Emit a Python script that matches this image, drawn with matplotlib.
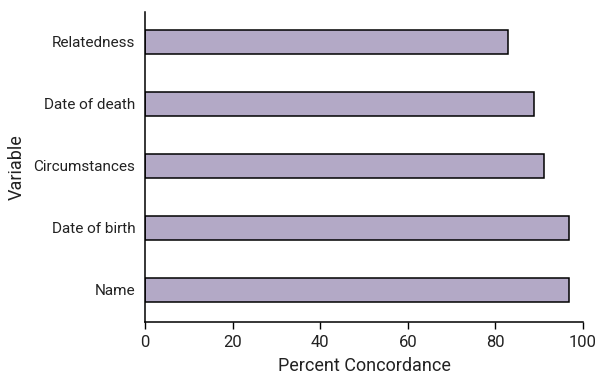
import matplotlib
matplotlib.use("Agg")
import matplotlib.pyplot as plt

categories = ["Name", "Date of birth", "Circumstances", "Date of death", "Relatedness"]
values = [96.7, 96.8, 91.1, 88.8, 82.8]
xticks = [0, 20, 40, 60, 80, 100]

plt.rcParams['font.family'] = ['Roboto', 'DejaVu Sans']

fig = plt.figure(figsize=(6, 3.75), dpi=100)
ax = fig.add_axes([0.2417, 0.1413, 0.73, 0.8267])
ax.barh(range(len(categories)), values, height=0.39, color="#b3a9c6",
        edgecolor="black", linewidth=1.1)
ax.set_yticks(range(len(categories)))
ax.set_yticklabels(categories, fontsize=11, color="#222222")
ax.tick_params(axis="y", length=0, pad=7)
ax.set_xticks(xticks)
ax.set_xticklabels([str(t) for t in xticks], fontsize=12, color="#222222")
ax.tick_params(axis="x", length=5, width=1, pad=4)
ax.set_xlim(0, 100)
ax.set_ylim(-0.52, 4.48)
for s in ["top", "right"]:
    ax.spines[s].set_visible(False)
for s in ["left", "bottom"]:
    ax.spines[s].set_linewidth(1.1)
ax.set_xlabel("Percent Concordance", fontsize=13, color="#222222", labelpad=5.5)
ax.set_ylabel("Variable", fontsize=13, color="#222222")
ax.yaxis.set_label_coords(-0.272, 0.5)
fig.savefig("out.png", dpi=100)
